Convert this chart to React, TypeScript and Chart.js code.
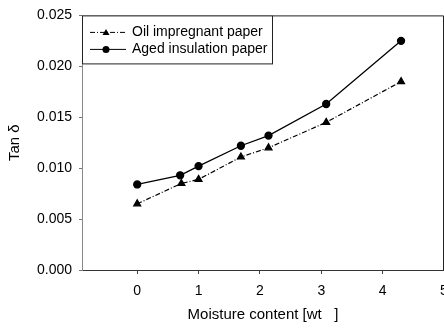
import React, { useEffect, useRef } from "react";
import { Chart, registerables } from "chart.js";

Chart.register(...registerables);

const moistureOil = [0, 0.72, 1.0, 1.69, 2.14, 3.08, 4.3];
const tanOil = [0.0065, 0.0085, 0.0089, 0.0111, 0.012, 0.0145, 0.0185];
const moistureAged = [0, 0.7, 1.0, 1.69, 2.14, 3.08, 4.3];
const tanAged = [0.0084, 0.0093, 0.0102, 0.0122, 0.0132, 0.0163, 0.0225];
const xTicks = [0, 1, 2, 3, 4, 5];
const yTicks = [0, 0.005, 0.01, 0.015, 0.02, 0.025];
const seriesNames = ["Oil impregnant paper", "Aged insulation paper"];

const FONT = "'Liberation Sans', Arial, sans-serif";

const frameLegend = {
  id: "frameLegend",
  afterDraw(chart: any) {
    const { ctx, chartArea: a } = chart;
    ctx.save();
    ctx.strokeStyle = "#222";
    ctx.lineWidth = 1;
    ctx.beginPath();
    ctx.moveTo(a.left, a.top + 0.5);
    ctx.lineTo(a.right - 0.5, a.top + 0.5);
    ctx.lineTo(a.right - 0.5, a.bottom);
    ctx.stroke();
    const bx = a.left, by = a.top, bw = 191, bh = 49;
    ctx.fillStyle = "#fff";
    ctx.fillRect(bx, by, bw, bh);
    ctx.strokeStyle = "#222";
    ctx.lineWidth = 1;
    ctx.strokeRect(bx + 0.5, by + 0.5, bw - 1, bh - 1);
    chart.data.datasets.forEach((ds: any, i: number) => {
      const y = by + 17 + i * 17;
      ctx.strokeStyle = "#000";
      ctx.lineWidth = 1;
      ctx.setLineDash(ds.borderDash || []);
      ctx.beginPath();
      ctx.moveTo(bx + 8, y);
      ctx.lineTo(bx + 44, y);
      ctx.stroke();
      ctx.setLineDash([]);
      ctx.fillStyle = "#000";
      const cx = bx + 24;
      if (ds.pointStyle === "triangle") {
        ctx.beginPath();
        ctx.moveTo(cx, y - 3.5);
        ctx.lineTo(cx + 3.5, y + 2.5);
        ctx.lineTo(cx - 3.5, y + 2.5);
        ctx.closePath();
        ctx.fill();
      } else {
        ctx.beginPath();
        ctx.arc(cx, y, 3.5, 0, Math.PI * 2);
        ctx.fill();
      }
      ctx.font = `14px ${FONT}`;
      ctx.textBaseline = "middle";
      ctx.fillText(ds.label, bx + 50, y);
    });
    ctx.restore();
  },
};

export default function App() {
  const ref = useRef<HTMLCanvasElement>(null);
  useEffect(() => {
    document.body.style.margin = "0";
    const chart = new Chart(ref.current!, {
      type: "scatter",
      data: {
        datasets: [
          {
            label: seriesNames[0],
            data: moistureOil.map((x, i) => ({ x, y: tanOil[i] })),
            showLine: true,
            borderColor: "#000",
            backgroundColor: "#000",
            borderWidth: 1.2,
            borderDash: [5, 2, 1, 2],
            pointStyle: "triangle",
            pointRadius: 4,
          },
          {
            label: seriesNames[1],
            data: moistureAged.map((x, i) => ({ x, y: tanAged[i] })),
            showLine: true,
            borderColor: "#000",
            backgroundColor: "#000",
            borderWidth: 1.3,
            pointStyle: "circle",
            pointRadius: 3.5,
          },
        ],
      },
      options: {
        animation: false,
        responsive: false,
        layout: { autoPadding: false, padding: { top: 13, right: 0, left: 0, bottom: 0 } },
        plugins: { legend: { display: false }, tooltip: { enabled: false } },
        scales: {
          x: {
            type: "linear",
            min: -0.9,
            max: 5,
            afterBuildTicks: (s: any) => {
              s.ticks = xTicks.map((v) => ({ value: v }));
            },
            afterFit: (s: any) => {
              s.height = 61;
              s.paddingRight = 0;
              s.paddingLeft = 0;
            },
            ticks: {
              color: "#000",
              font: { family: FONT, size: 14 },
              padding: 9,
              maxRotation: 0,
            },
            grid: { drawOnChartArea: false, drawTicks: true, tickLength: 4, color: "#444" },
            border: { color: "#333", width: 1 },
            title: {
              display: true,
              text: "Moisture content [wt   ]",
              color: "#000",
              font: { family: FONT, size: 15 },
              padding: { top: 0, bottom: 7 },
            },
          },
          y: {
            type: "linear",
            min: 0,
            max: 0.025,
            afterBuildTicks: (s: any) => {
              s.ticks = yTicks.map((v) => ({ value: v }));
            },
            afterFit: (s: any) => {
              s.width = 82;
            },
            ticks: {
              color: "#000",
              font: { family: FONT, size: 14 },
              padding: 7,
              callback: (v: any) => Number(v).toFixed(3),
            },
            grid: { drawOnChartArea: false, drawTicks: true, tickLength: 3, color: "#777" },
            border: { color: "#888", width: 1 },
            title: {
              display: true,
              text: "Tan δ",
              color: "#000",
              font: { family: FONT, size: 15 },
              padding: { top: 6, bottom: 2 },
            },
          },
        },
      },
      plugins: [frameLegend],
    });
    return () => chart.destroy();
  }, []);
  return <canvas ref={ref} width={444} height={331} style={{ display: "block" }} />;
}
